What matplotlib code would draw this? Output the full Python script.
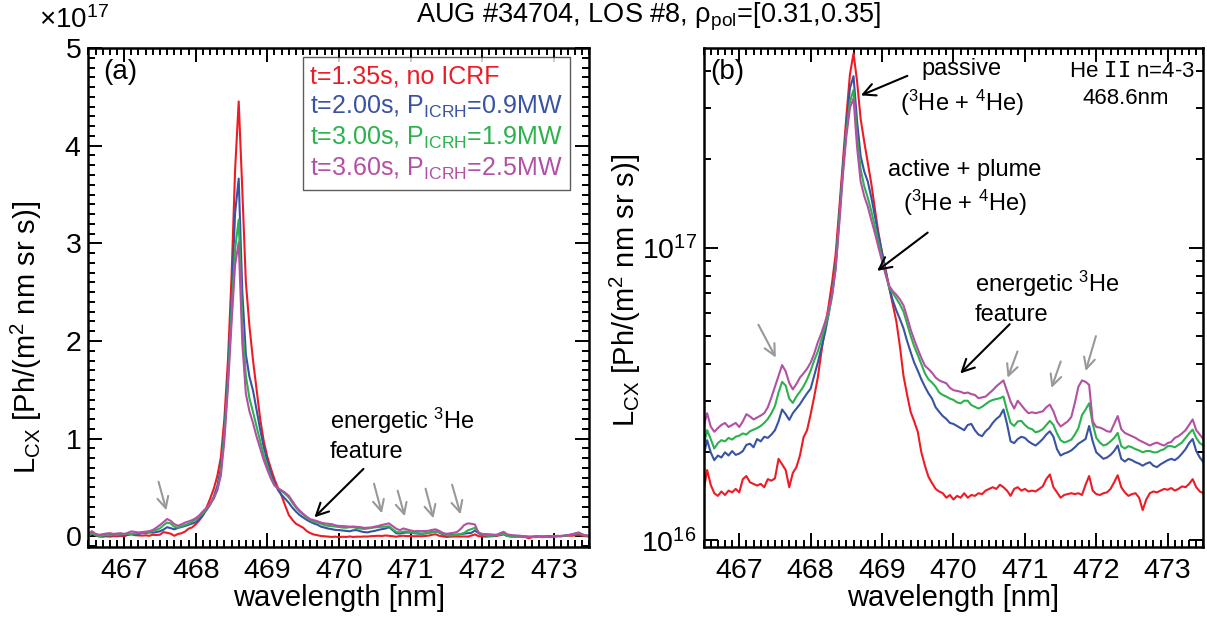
import numpy as np
import matplotlib
matplotlib.use("Agg")
import matplotlib.pyplot as plt
from matplotlib.ticker import MultipleLocator, LogLocator, NullFormatter, ScalarFormatter

plt.rcParams["font.family"] = ["Liberation Sans", "DejaVu Sans"]
plt.rcParams["mathtext.fontset"] = "custom"
plt.rcParams["mathtext.rm"] = "Liberation Sans"
plt.rcParams["mathtext.it"] = "Liberation Sans:italic"
plt.rcParams["mathtext.tt"] = "DejaVu Sans Mono"

# spectral grid [nm], 0.05 nm sampling
wavelength = np.round(np.arange(466.50, 473.501, 0.05), 2)

# radiance in units of 1e16 Ph/(m^2 nm sr s)
UNIT = 1e16

spec_135 = [
    1.47, 1.74, 1.55, 1.45, 1.42, 1.47, 1.43, 1.48, 1.46, 1.50,
    1.46, 1.62, 1.66, 1.58, 1.56, 1.54, 1.56, 1.52, 1.62, 1.60,
    1.63, 1.90, 1.82, 1.74, 1.52, 1.70, 1.78, 1.95, 2.25, 2.38,
    2.70, 3.10, 3.60, 4.40, 5.30, 6.30, 7.60, 9.5, 13.5, 19.5,
    28.0, 39.0, 46.0, 37.0, 27.5, 23.0, 19.5, 16.5, 13.5, 11.2,
    9.6, 8.4, 7.3, 6.4, 5.6, 4.6, 3.65, 3.15, 2.75, 2.55,
    2.35, 2.00, 1.80, 1.65, 1.57, 1.50, 1.47, 1.45, 1.40, 1.43,
    1.38, 1.42, 1.40, 1.45, 1.40, 1.43, 1.42, 1.45, 1.44, 1.48,
    1.50, 1.52, 1.50, 1.55, 1.52, 1.48, 1.42, 1.50, 1.52, 1.48,
    1.50, 1.47, 1.48, 1.47, 1.50, 1.53, 1.62, 1.68, 1.52, 1.46,
    1.40, 1.43, 1.44, 1.45, 1.44, 1.45, 1.43, 1.55, 1.66, 1.48,
    1.44, 1.43, 1.45, 1.46, 1.50, 1.58, 1.67, 1.52, 1.46, 1.42,
    1.44, 1.45, 1.40, 1.27, 1.38, 1.45, 1.47, 1.46, 1.48, 1.50,
    1.49, 1.51, 1.48, 1.50, 1.53, 1.52, 1.56, 1.62, 1.52, 1.47,
    1.45,
]
spec_200 = [
    1.95, 2.20, 2.00, 1.88, 1.95, 1.92, 2.00, 1.95, 2.02, 1.96,
    1.98, 2.02, 2.12, 2.14, 2.08, 2.22, 2.18, 2.26, 2.24, 2.30,
    2.38, 2.55, 2.80, 2.70, 2.58, 2.72, 2.82, 2.92, 3.05, 3.18,
    3.30, 3.65, 4.05, 4.55, 5.10, 5.90, 7.00, 8.8, 12.8, 18.5,
    26.0, 35.0, 38.5, 27.0, 20.5, 18.2, 16.8, 14.8, 12.8, 11.0,
    9.6, 8.3, 7.3, 6.6, 6.1, 5.7, 5.3, 4.8, 4.4, 4.05,
    3.80, 3.55, 3.35, 3.18, 3.05, 2.85, 2.75, 2.66, 2.60, 2.52,
    2.50, 2.46, 2.42, 2.38, 2.48, 2.50, 2.38, 2.30, 2.27, 2.36,
    2.42, 2.52, 2.60, 2.66, 2.80, 2.50, 2.18, 2.15, 2.22, 2.26,
    2.24, 2.18, 2.14, 2.11, 2.16, 2.22, 2.30, 2.36, 2.26, 2.05,
    1.95, 1.98, 2.00, 2.03, 2.08, 2.14, 2.18, 2.22, 2.46, 2.18,
    2.00, 1.95, 1.90, 1.92, 1.96, 2.02, 2.11, 1.90, 1.86, 1.90,
    1.88, 1.85, 1.83, 1.80, 1.83, 1.85, 1.80, 1.78, 1.82, 1.85,
    1.88, 1.90, 1.88, 1.92, 1.98, 2.05, 2.15, 2.22, 2.02, 1.92,
    1.85,
]
spec_300 = [
    2.10, 2.38, 2.22, 2.06, 2.15, 2.20, 2.18, 2.24, 2.21, 2.26,
    2.28, 2.32, 2.30, 2.36, 2.39, 2.42, 2.46, 2.52, 2.60, 2.72,
    2.88, 3.20, 3.48, 3.38, 3.05, 2.95, 3.10, 3.22, 3.36, 3.55,
    3.80, 4.12, 4.42, 4.85, 5.35, 5.90, 6.80, 8.6, 12.5, 18.0,
    25.0, 31.5, 34.5, 24.0, 18.5, 16.2, 14.8, 13.3, 11.8, 10.4,
    9.2, 8.1, 7.3, 7.0, 6.7, 6.4, 6.05, 5.5, 5.0, 4.6,
    4.3, 4.0, 3.72, 3.55, 3.46, 3.35, 3.20, 3.14, 3.10, 3.05,
    3.02, 2.96, 2.94, 3.00, 3.00, 2.90, 2.86, 2.82, 2.86, 2.92,
    2.98, 3.02, 3.04, 3.06, 3.10, 2.78, 2.52, 2.46, 2.55, 2.56,
    2.48, 2.42, 2.40, 2.34, 2.36, 2.40, 2.48, 2.56, 2.48, 2.32,
    2.20, 2.16, 2.18, 2.21, 2.30, 2.42, 2.68, 2.80, 2.94, 2.50,
    2.24, 2.16, 2.11, 2.13, 2.18, 2.24, 2.33, 2.10, 2.06, 2.10,
    2.08, 2.05, 2.03, 2.00, 2.02, 2.02, 2.00, 2.00, 2.03, 2.05,
    2.10, 2.10, 2.08, 2.12, 2.16, 2.24, 2.32, 2.39, 2.24, 2.15,
    2.11,
]
spec_360 = [
    2.45, 2.72, 2.45, 2.35, 2.42, 2.48, 2.52, 2.44, 2.48, 2.52,
    2.44, 2.55, 2.70, 2.65, 2.59, 2.63, 2.67, 2.72, 2.85, 3.08,
    3.35, 3.65, 3.97, 3.78, 3.45, 3.28, 3.42, 3.60, 3.72, 3.86,
    4.05, 4.35, 4.75, 5.10, 5.55, 6.10, 6.90, 8.4, 12.0, 17.5,
    24.0, 30.0, 32.3, 22.0, 16.8, 15.0, 13.8, 12.4, 11.2, 10.0,
    9.0, 8.1, 7.4, 7.1, 6.9, 6.65, 6.35, 5.8, 5.25, 4.85,
    4.50, 4.20, 3.95, 3.85, 3.74, 3.60, 3.52, 3.48, 3.44, 3.32,
    3.26, 3.24, 3.22, 3.18, 3.20, 3.16, 3.14, 3.06, 3.08, 3.10,
    3.18, 3.26, 3.36, 3.44, 3.52, 3.24, 2.98, 2.82, 3.00, 2.90,
    2.80, 2.72, 2.74, 2.72, 2.74, 2.76, 2.85, 2.91, 2.76, 2.55,
    2.45, 2.50, 2.55, 2.64, 2.95, 3.35, 3.52, 3.48, 3.40, 2.55,
    2.44, 2.43, 2.40, 2.36, 2.35, 2.50, 2.66, 2.40, 2.33, 2.30,
    2.27, 2.24, 2.20, 2.17, 2.14, 2.11, 2.14, 2.16, 2.13, 2.11,
    2.15, 2.17, 2.24, 2.27, 2.32, 2.38, 2.48, 2.59, 2.38, 2.30,
    2.22,
]

# flat continuum level of each spectrum, removed in the linear panel
background = [1.47, 1.87, 2.07, 2.20]

labels = [
    "t=1.35s, no ICRF",
    r"t=2.00s, P$_{\rm ICRH}$=0.9MW",
    r"t=3.00s, P$_{\rm ICRH}$=1.9MW",
    r"t=3.60s, P$_{\rm ICRH}$=2.5MW",
]
colors = ["#ED1C24", "#3953A4", "#2BB24C", "#B450A4"]
spectra = [spec_135, spec_200, spec_300, spec_360]

fig = plt.figure(figsize=(12.07, 6.19), dpi=100)
ax1 = fig.add_axes([0.0732, 0.1163, 0.4152, 0.8061])
ax2 = fig.add_axes([0.5829, 0.1163, 0.4141, 0.8061])

for s, bg, c in zip(spectra, background, colors):
    ax1.plot(wavelength, (np.array(s) - bg) * UNIT, color=c, lw=1.5)
    ax2.plot(wavelength, np.array(s) * UNIT, color=c, lw=1.5)

# --- linear panel
ax1.set_xlim(466.5, 473.5)
ax1.set_ylim(-0.11e17, 5e17)
ax1.yaxis.set_major_locator(MultipleLocator(1e17))
ax1.yaxis.set_minor_locator(MultipleLocator(0.1e17))
fmt = ScalarFormatter(useMathText=True)
fmt.set_powerlimits((0, 0))
ax1.yaxis.set_major_formatter(fmt)
ax1.yaxis.offsetText.set_visible(False)
ax1.text(-0.098, 1.028, r"$\times$10$^{17}$", transform=ax1.transAxes,
         fontsize=20, va="bottom", ha="left")

# --- log panel
ax2.set_xlim(466.5, 473.5)
ax2.set_yscale("log")
ax2.set_ylim(0.95e16, 4.8e17)
ax2.yaxis.set_major_locator(LogLocator(base=10))
ax2.yaxis.set_minor_locator(LogLocator(base=10, subs=np.arange(2, 10)))
ax2.yaxis.set_minor_formatter(NullFormatter())

ylab = r"L$_{\rm CX}$ [Ph/(m$^2$ nm sr s)]"
for ax in (ax1, ax2):
    ax.xaxis.set_major_locator(MultipleLocator(1))
    ax.xaxis.set_minor_locator(MultipleLocator(0.1))
    ax.tick_params(which="both", direction="in", top=True, right=True, width=1.4)
    ax.tick_params(which="major", length=10, labelsize=20.5)
    ax.tick_params(which="minor", length=5)
    ax.tick_params(axis="x", which="major", pad=8)
    ax.tick_params(axis="y", which="major", pad=5)
    for sp in ax.spines.values():
        sp.set_linewidth(1.8)
    ax.set_xlabel("wavelength [nm]", fontsize=21, labelpad=0)
    ax.set_ylabel(ylab, fontsize=21)

ax1.yaxis.set_label_coords(-0.088, 0.42)
ax2.yaxis.set_label_coords(-0.122, 0.515)

leg = ax1.legend([plt.Line2D([], [], lw=0)] * 4, labels, loc="upper right",
                 bbox_to_anchor=(0.962, 0.982), borderaxespad=0, fontsize=18,
                 handlelength=0, handletextpad=0, labelspacing=0.2,
                 frameon=True, fancybox=False, edgecolor="#333333",
                 borderpad=0.3)
leg.get_frame().set_linewidth(1.0)
for txt, c in zip(leg.get_texts(), colors):
    txt.set_color(c)

fig.text(0.537, 0.972, "AUG #34704, LOS #8, ρ$_{\\rm pol}$=[0.31,0.35]",
         ha="center", va="center", fontsize=19.5)

# --- annotations, linear panel
ax1.text(0.03, 0.952, "(a)", transform=ax1.transAxes, fontsize=20, va="center")
ax1.text(0.482, 0.225, "energetic $^3$He\nfeature", transform=ax1.transAxes,
         fontsize=17, va="center", linespacing=1.3)
ax1.annotate("", xy=(469.63, 0.174e17), xytext=(470.37, 0.71e17),
             arrowprops=dict(arrowstyle="->", color="black", lw=1.5,
                             mutation_scale=22))
grey_a = [((467.47, 0.586e17), (467.60, 0.238e17)),
          ((470.48, 0.566e17), (470.61, 0.207e17)),
          ((470.81, 0.494e17), (470.93, 0.177e17)),
          ((471.20, 0.515e17), (471.33, 0.156e17)),
          ((471.57, 0.556e17), (471.71, 0.197e17))]
for tail, head in grey_a:
    ax1.annotate("", xy=head, xytext=tail,
                 arrowprops=dict(arrowstyle="->", color="#999999", lw=1.5,
                                 mutation_scale=20))

# --- annotations, log panel
ax2.text(0.013, 0.952, "(b)", transform=ax2.transAxes, fontsize=20, va="center")
ax2.text(0.517, 0.92, "passive\n($^3$He + $^4$He)", transform=ax2.transAxes,
         fontsize=17, ha="center", va="center", linespacing=1.3)
ax2.text(0.523, 0.719, "active + plume\n($^3$He + $^4$He)", transform=ax2.transAxes,
         fontsize=17, ha="center", va="center", linespacing=1.3)
ax2.text(0.543, 0.50, "energetic $^3$He\nfeature", transform=ax2.transAxes,
         fontsize=17, va="center", linespacing=1.3)
ax2.text(0.732, 0.952, r"He $\mathtt{II}$ n=4-3", transform=ax2.transAxes,
         fontsize=16, va="center")
ax2.text(0.758, 0.898, "468.6nm", transform=ax2.transAxes, fontsize=16,
         va="center")

black_b = [((469.39, 3.89e17), (468.667, 3.28e17)),
           ((469.67, 1.14e17), (468.90, 8.22e16)),
           ((470.815, 5.56e16), (470.067, 3.66e16))]
for tail, head in black_b:
    ax2.annotate("", xy=head, xytext=tail,
                 arrowprops=dict(arrowstyle="->", color="black", lw=1.5,
                                 mutation_scale=22))
grey_b = [((467.25, 5.56e16), (467.53, 4.13e16)),
          ((470.91, 4.51e16), (470.745, 3.52e16)),
          ((471.515, 4.17e16), (471.36, 3.25e16)),
          ((472.006, 5.09e16), (471.84, 3.71e16))]
for tail, head in grey_b:
    ax2.annotate("", xy=head, xytext=tail,
                 arrowprops=dict(arrowstyle="->", color="#999999", lw=1.5,
                                 mutation_scale=20))

fig.savefig("out.png", dpi=100)
